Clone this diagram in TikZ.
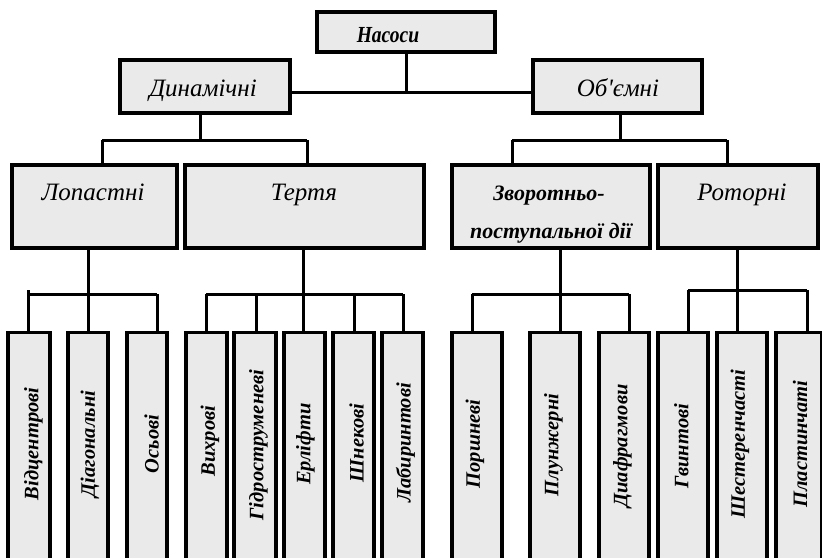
\documentclass[tikz,border=0pt]{standalone}
\usepackage{fontspec}
\setmainfont{Liberation Serif}
\newfontfamily\rawserif{Liberation Serif}
\definecolor{boxgray}{HTML}{EAEAEA}
\begin{document}
\begin{tikzpicture}[x=1pt,y=-1pt,
  box/.style={draw=black, line width=3.2pt, fill=boxgray, inner sep=0pt, rectangle},
  conn/.style={draw=black, line width=3pt},
  ltxt/.style={font=\fontsize{25}{29}\selectfont\itshape, anchor=base, inner sep=0pt},
  btxt/.style={font=\fontsize{22}{26}\selectfont\bfseries\itshape, anchor=base, inner sep=0pt},
  vtxt/.style={font=\fontsize{20.5}{24}\selectfont\bfseries\itshape, rotate=90, anchor=center, inner sep=0pt}]
\useasboundingbox (0,0) rectangle (822,557);
\clip (0,0) rectangle (822,557);
\fill[white] (0,0) rectangle (822,557);

% level 0
\node[box, minimum width=178pt, minimum height=40pt] (nas) at (406,32) {};
\node[btxt] (tnas) at (388,42) {\scalebox{0.85}[1]{\fontsize{23}{27}\selectfont Насоси}};

% level 1
\node[box, minimum width=170pt, minimum height=53pt] (din) at (205,86.5) {};
\node[ltxt] (tdin) at (203,96) {Динамічні};
\node[box, minimum width=169pt, minimum height=53pt] (ob) at (617.5,86.5) {};
\node[ltxt] (tob) at (618,96) {Об{\rawserif\itshape '}ємні};

% level 2
\node[box, minimum width=165pt, minimum height=83pt] (lop) at (94.5,206.5) {};
\node[ltxt] (tlop) at (93,200) {Лопастні};
\node[box, minimum width=239pt, minimum height=83pt] (ter) at (304.5,206.5) {};
\node[ltxt] (tter) at (304,200) {Тертя};
\node[box, minimum width=198pt, minimum height=83pt] (zvo) at (551,206.5) {};
\node[btxt] (tzvo1) at (549,200) {Зворотньо-};
\node[btxt] (tzvo2) at (551,238) {поступальної дії};
\node[box, minimum width=160pt, minimum height=83pt] (rot) at (738,206.5) {};
\node[ltxt] (trot) at (742,200) {Роторні};

% level 3 boxes (top at 331, cut off at the bottom)
\node[box, minimum width=42pt, minimum height=260pt, anchor=north] (b1) at (29,331) {};
\node[box, minimum width=40pt, minimum height=260pt, anchor=north] (b2) at (88,331) {};
\node[box, minimum width=40pt, minimum height=260pt, anchor=north] (b3) at (147,331) {};
\node[box, minimum width=41pt, minimum height=260pt, anchor=north] (b4) at (206.5,331) {};
\node[box, minimum width=42pt, minimum height=260pt, anchor=north] (b5) at (255,331) {};
\node[box, minimum width=41pt, minimum height=260pt, anchor=north] (b6) at (304.5,331) {};
\node[box, minimum width=41pt, minimum height=260pt, anchor=north] (b7) at (353.5,331) {};
\node[box, minimum width=41pt, minimum height=260pt, anchor=north] (b8) at (402.5,331) {};
\node[box, minimum width=50pt, minimum height=260pt, anchor=north] (b9) at (477,331) {};
\node[box, minimum width=50pt, minimum height=260pt, anchor=north] (b10) at (555,331) {};
\node[box, minimum width=50pt, minimum height=260pt, anchor=north] (b11) at (624,331) {};
\node[box, minimum width=50pt, minimum height=260pt, anchor=north] (b12) at (683,331) {};
\node[box, minimum width=50pt, minimum height=260pt, anchor=north] (b13) at (742,331) {};
\node[box, minimum width=46pt, minimum height=260pt, anchor=north] (b14) at (799,331) {};

\node[vtxt] (t1) at (33.5,444) {Відцентрові};
\node[vtxt] (t2) at (90,444) {Діагональні};
\node[vtxt] (t3) at (151.5,444) {Осьові};
\node[vtxt] (t4) at (210,441) {Вихрові};
\node[vtxt] (t5) at (258.5,445) {Гідроструменеві};
\node[vtxt] (t6) at (305.5,444) {Ерліфти};
\node[vtxt] (t7) at (356.5,443) {Шнекові};
\node[vtxt] (t8) at (405.5,443) {Лабиринтові};
\node[vtxt] (t9) at (475,444) {Поршневі};
\node[vtxt] (t10) at (553.5,445) {Плунжерні};
\node[vtxt] (t11) at (622.5,446) {Диафрагмови};
\node[vtxt] (t12) at (681.5,446) {Гвинтові};
\node[vtxt] (t13) at (740,444) {Шестеренчасті};
\node[vtxt] (t14) at (800,444) {Пластинчаті};

% junction coordinates
\coordinate (j0) at (406,92);
\coordinate (j1) at (200,140);
\coordinate (j2) at (620,140);
\coordinate (jl) at (88,294);
\coordinate (jt) at (303,294);
\coordinate (jz) at (560,294);
\coordinate (jr) at (737,290);

% connectors level 0-1
\draw[conn] (nas.south -| j0) -- (j0);
\draw[conn] (din.east |- j0) -- (ob.west |- j0);
% level 1-2
\draw[conn] (din.south -| j1) -- (j1);
\draw[conn] (102,140) -- (307,140);
\draw[conn] (102,140) -- (lop.north -| 102,0);
\draw[conn] (307,140) -- (ter.north -| 307,0);
\draw[conn] (ob.south -| j2) -- (j2);
\draw[conn] (512,140) -- (727,140);
\draw[conn] (512,140) -- (zvo.north -| 512,0);
\draw[conn] (727,140) -- (rot.north -| 727,0);
% Lopastni
\draw[conn] (lop.south -| jl) -- (jl);
\draw[conn] (28,294) -- (157,294);
\draw[conn] (28,290) -- (b1.north -| 28,0);
\draw[conn] (jl) -- (b2.north);
\draw[conn] (157,294) -- (b3.north -| 157,0);
% Tertya
\draw[conn] (ter.south -| jt) -- (jt);
\draw[conn] (206,294) -- (403,294);
\draw[conn] (206,294) -- (b4.north -| 206,0);
\draw[conn] (256,294) -- (b5.north -| 256,0);
\draw[conn] (303,294) -- (b6.north -| 303,0);
\draw[conn] (354,294) -- (b7.north -| 354,0);
\draw[conn] (403,294) -- (b8.north -| 403,0);
% Zvorotno
\draw[conn] (zvo.south -| jz) -- (jz);
\draw[conn] (472,294) -- (629,294);
\draw[conn] (472,294) -- (b9.north -| 472,0);
\draw[conn] (560,294) -- (b10.north -| 560,0);
\draw[conn] (629,294) -- (b11.north -| 629,0);
% Rotorni
\draw[conn] (rot.south -| jr) -- (jr);
\draw[conn] (688,290) -- (807,290);
\draw[conn] (688,290) -- (b12.north -| 688,0);
\draw[conn] (737,290) -- (b13.north -| 737,0);
\draw[conn] (807,290) -- (b14.north -| 807,0);
\end{tikzpicture}
\end{document}
